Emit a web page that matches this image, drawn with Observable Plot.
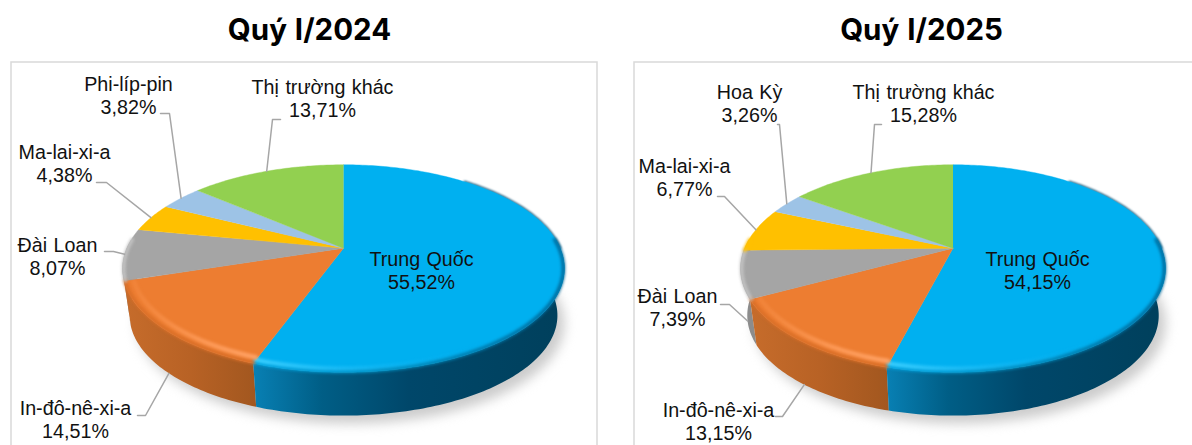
<!DOCTYPE html>
<html lang="vi">
<head>
<meta charset="utf-8">
<script src="https://cdn.jsdelivr.net/npm/d3@7"></script>
<script src="https://cdn.jsdelivr.net/npm/@observablehq/plot@0.6"></script>
<style>html,body{margin:0;padding:0;background:#fff;overflow:hidden}svg{display:block}</style>
</head>
<body>
<div id="chart"></div>
<script>
// ---- data ----
const titles = ["Quý I/2024", "Quý I/2025"];
const categories2024 = ["Trung Quốc", "In-đô-nê-xi-a", "Đài Loan", "Ma-lai-xi-a", "Phi-líp-pin", "Thị trường khác"];
const values2024 = [55.52, 14.51, 8.07, 4.38, 3.82, 13.71];
const categories2025 = ["Trung Quốc", "In-đô-nê-xi-a", "Đài Loan", "Ma-lai-xi-a", "Hoa Kỳ", "Thị trường khác"];
const values2025 = [54.15, 13.15, 7.39, 6.77, 3.26, 15.28];
const faceColors = ["#00B0F0", "#ED7D31", "#A5A5A5", "#FFC000", "#9DC3E6", "#92D050"];
const wallFills = ["url(#wall0)", "url(#wall1)", "#8c8c8c", "#c79600", "#7c9cba", "#6fa53a"];
const rimColors = ["url(#rim0)", "#d96f28", "#c4c4c4", "#FFC000", "#9DC3E6", "#92D050"];

// ---- layout (label block centres and leader elbows) ----
const labelXY2024 = [[421,270],[75,419],[57,256],[64,163],[128,95],[322,98]];
const elbow2024 = [null,[[137,415],[145,415]],[[104,251],[113,251]],[[96,182],[106,182]],[[160,113],[169,113]],[[280,119],[272,119]]];
const labelXY2025 = [[1037,270],[718,421],[677,307],[684,177],[749,103],[923,103]];
const elbow2025 = [null,[[775,416],[782,416]],[[720,304],[729,304]],[[717,196],[724,196]],[[777,124],[779,124]],[[881,124],[874,124]]];
const pies = [
  {cx:343, cy:247.7, a:216.7, b:99.8, k:0.196, x0:11, x1:597},
  {cx:952.5, cy:247.7, a:208.4, b:99.8, k:0.196, x0:634, x1:1240}
];
const titleX = [309, 921];
const wallDrop = 47.6, wallScaleX = 0.968, wallScaleY = 0.965;

// ---- pie projection: angle on the disc -> perspective point ----
const rad = d => d * Math.PI / 180;
function pt(p, deg, r = 1, lower = false) {
  const u = r * Math.sin(rad(deg)), v = r * Math.cos(rad(deg)), w = 1 + p.k * v;
  const X = p.a * u / w, Y = -p.b * v / w;
  return lower ? [p.cx + wallScaleX * X, p.cy + wallDrop + wallScaleY * Y] : [p.cx + X, p.cy + Y];
}
const range = (a, b, step = 1) => { const o = []; for (let t = a; t < b; t += step) o.push(t); o.push(b); return o; };
const row = ([x, y]) => ({x, y});
const arc = (p, a, b, r, lower) => range(a, b).map(t => row(pt(p, t, r, lower)));

function sectors(vals) {
  const total = d3.sum(vals);
  let acc = 0;
  return vals.map(v => { const s = acc / total * 360; acc += v; return [s, acc / total * 360]; });
}

const defs = () => {
  const d = d3.create("svg:defs");
  const grad = (id, stops) => {
    const g = d.append("linearGradient").attr("id", id);
    stops.forEach(([o, c, op]) => g.append("stop").attr("offset", o).attr("stop-color", c).attr("stop-opacity", op ?? 1));
  };
  grad("wall0", [[0,"#0880b4"],[0.22,"#005e86"],[0.5,"#00476a"],[1,"#00405c"]]);
  grad("wall1", [[0,"#c66c2b"],[0.5,"#b86225"],[1,"#a2571f"]]);
  grad("rim0", [[0,"#00a0dc"],[0.45,"#0088b8"],[1,"#00699a"]]);
  grad("hi0", [[0,"#3fd0ff",1],[0.6,"#20c0fb",0.35],[1,"#00b0f0",0]]);
  grad("hi1", [[0,"#ff9a55",0.25],[0.6,"#ff9d5c",0.9],[1,"#ffa265",1]]);
  return d.node();
};

function pieMarks(p, cats, vals, labelXY, elbows) {
  const sec = sectors(vals);
  const front = [85, 275];
  const marks = [];
  // panel frame
  marks.push(Plot.rect([{x1:p.x0, x2:p.x1, y1:62, y2:470}], {x1:"x1", x2:"x2", y1:"y1", y2:"y2", fill:"#fff", stroke:"#d9d9d9", strokeWidth:1.5}));
  // drop shadow
  marks.push(Plot.line(range(0, 360, 2).map(t => { const [x, y] = pt(p, t, 1.0, true); return {x:x + 7, y:y + 8}; }),
    {x:"x", y:"y", fill:"#cccccc", stroke:"none", imageFilter:"blur(6px)"}));
  // walls, back to front: gray first, blue last
  [5,4,3,2,1,0].forEach(i => {
    const a = Math.max(sec[i][0], front[0]), b = Math.min(sec[i][1], front[1]);
    if (a >= b) return;
    marks.push(Plot.line([...arc(p, a, b, 1, false), ...arc(p, a, b, 1, true).reverse()],
      {x:"x", y:"y", fill:wallFills[i], stroke:"none"}));
  });
  // thin dark edge along the upper right of the disc
  marks.push(Plot.line(arc(p, 40, 90, 1, false), {x:"x", y:"y", stroke:"#004a6e", strokeWidth:2, imageFilter:"blur(0.8px)"}));
  // top faces
  sec.forEach(([a, b], i) => {
    marks.push(Plot.line([row(pt(p, a, 0)), ...arc(p, a, b, 1, false)], {x:"x", y:"y", fill:faceColors[i], stroke:faceColors[i], strokeWidth:0.4}));
  });
  // soft bevel along the front rim
  sec.forEach(([a, b], i) => {
    const s = Math.max(a, front[0]), e = Math.min(b, front[1]);
    if (s >= e) return;
    marks.push(Plot.line(arc(p, s, e, 0.995, false), {x:"x", y:"y", stroke:rimColors[i], strokeWidth:3.5, imageFilter:"blur(1.5px)"}));
  });
  // bright highlight inside the rim
  const hiB = range(sec[0][1] - 55, sec[0][1]).reverse().map(t => row(pt(p, t, 0.975, false)));
  marks.push(Plot.line(hiB, {x:"x", y:"y", stroke:"url(#hi0)", strokeWidth:4, imageFilter:"blur(1.5px)"}));
  marks.push(Plot.line(range(sec[1][0] + 0.5, sec[1][1] - 1).reverse().map(t => row(pt(p, t, 0.96, false))),
    {x:"x", y:"y", stroke:"url(#hi1)", strokeWidth:4.5, imageFilter:"blur(1.8px)"}));
  // leaders: anchored at the middle of each slice's outer edge
  elbows.forEach((el, i) => {
    if (!el) return;
    const mid = (sec[i][0] + sec[i][1]) / 2;
    const end = pt(p, mid, 1, Math.cos(rad(mid)) < -0.1);
    marks.push(Plot.line([...el, end].map(row), {x:"x", y:"y", stroke:"#a6a6a6", strokeWidth:1.5}));
  });
  // labels
  const fmt = v => v.toFixed(2).replace(".", ",") + "%";
  marks.push(Plot.text(cats.map((c, i) => ({x:labelXY[i][0], y:labelXY[i][1], t:c + "\n" + fmt(vals[i])})),
    {x:"x", y:"y", text:"t", fontFamily:"Liberation Sans", fontSize:19.7, lineHeight:1.17, fill:"#111", textAnchor:"middle", lineAnchor:"middle"}));
  return marks;
}

const chart = Plot.plot({
  width:1192, height:445, margin:0,
  style:{wordSpacing:"1px", background:"#fff"},
  x:{type:"linear", domain:[0,1192], range:[0,1192], axis:null},
  y:{type:"linear", domain:[0,445], range:[0,445], axis:null},
  marks:[
    defs,
    ...pieMarks(pies[0], categories2024, values2024, labelXY2024, elbow2024),
    ...pieMarks(pies[1], categories2025, values2025, labelXY2025, elbow2025),
    Plot.text(titles.map((t, i) => ({x:titleX[i], y:30, t})),
      {x:"x", y:"y", text:"t", fontFamily:"Inter", fontWeight:700, fontSize:29.5, fill:"#000", textAnchor:"middle"})
  ]
});
document.getElementById("chart").append(chart);
</script>
</body>
</html>
